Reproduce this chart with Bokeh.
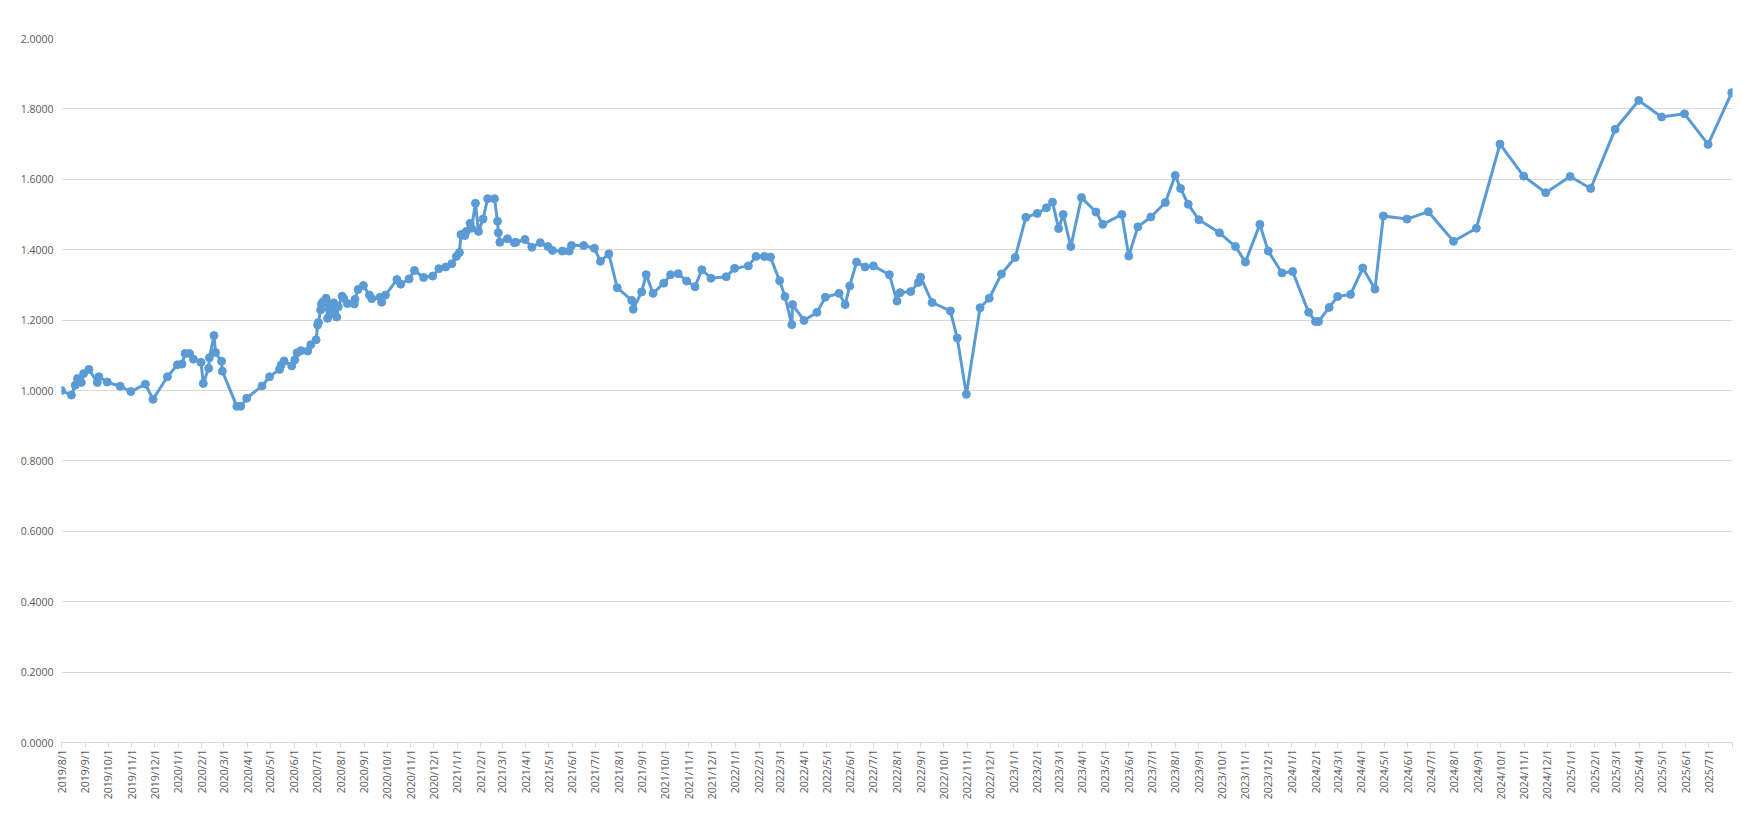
import math
import pandas as pd
from bokeh.plotting import figure
from bokeh.models import (ColumnDataSource, Range1d, FixedTicker, NumeralTickFormatter,
                          CustomJSTickFormatter)
from bokeh.embed import file_html
from bokeh.resources import INLINE

# ---------------- data ----------------
dates = [
    "2019-08-01", "2019-08-14", "2019-08-19", "2019-08-22", "2019-08-27", "2019-08-30",
    "2019-09-06", "2019-09-17", "2019-09-19", "2019-09-30", "2019-10-17", "2019-10-31",
    "2019-11-19", "2019-11-29", "2019-12-18", "2019-12-31", "2020-01-06", "2020-01-10",
    "2020-01-16", "2020-01-21", "2020-01-31", "2020-02-03", "2020-02-10", "2020-02-11",
    "2020-02-17", "2020-02-19", "2020-02-27", "2020-02-28", "2020-03-18", "2020-03-23",
    "2020-03-31", "2020-04-20", "2020-04-30", "2020-05-13", "2020-05-15", "2020-05-19",
    "2020-05-29", "2020-06-02", "2020-06-05", "2020-06-10", "2020-06-19", "2020-06-23",
    "2020-06-30", "2020-07-02", "2020-07-03", "2020-07-06", "2020-07-07", "2020-07-09",
    "2020-07-13", "2020-07-15", "2020-07-17", "2020-07-20", "2020-07-21", "2020-07-23",
    "2020-07-27", "2020-07-29", "2020-08-03", "2020-08-05", "2020-08-10", "2020-08-19",
    "2020-08-20", "2020-08-24", "2020-08-31", "2020-09-08", "2020-09-11", "2020-09-22",
    "2020-09-24", "2020-09-29", "2020-10-14", "2020-10-19", "2020-10-30", "2020-11-06",
    "2020-11-18", "2020-11-30", "2020-12-08", "2020-12-17", "2020-12-25", "2020-12-31",
    "2021-01-04", "2021-01-06", "2021-01-11", "2021-01-13", "2021-01-18", "2021-01-20",
    "2021-01-25", "2021-01-29", "2021-02-04", "2021-02-10", "2021-02-19", "2021-02-23",
    "2021-02-24", "2021-02-26", "2021-03-08", "2021-03-17", "2021-03-19", "2021-03-31",
    "2021-04-09", "2021-04-20", "2021-04-30", "2021-05-06", "2021-05-19", "2021-05-28",
    "2021-05-31", "2021-06-16", "2021-06-30", "2021-07-08", "2021-07-19", "2021-07-30",
    "2021-08-18", "2021-08-20", "2021-08-31", "2021-09-06", "2021-09-15", "2021-09-29",
    "2021-10-08", "2021-10-18", "2021-10-29", "2021-11-09", "2021-11-18", "2021-11-30",
    "2021-12-20", "2021-12-31", "2022-01-18", "2022-01-28", "2022-02-08", "2022-02-16",
    "2022-02-28", "2022-03-07", "2022-03-16", "2022-03-17", "2022-04-01", "2022-04-18",
    "2022-04-29", "2022-05-17", "2022-05-25", "2022-05-31", "2022-06-09", "2022-06-20",
    "2022-07-01", "2022-07-22", "2022-08-01", "2022-08-05", "2022-08-19", "2022-08-29",
    "2022-09-01", "2022-09-16", "2022-10-10", "2022-10-19", "2022-10-31", "2022-11-18",
    "2022-11-30", "2022-12-16", "2023-01-03", "2023-01-17", "2023-02-01", "2023-02-13",
    "2023-02-21", "2023-03-01", "2023-03-07", "2023-03-17", "2023-03-31", "2023-04-19",
    "2023-04-28", "2023-05-23", "2023-06-01", "2023-06-13", "2023-06-30", "2023-07-19",
    "2023-08-01", "2023-08-08", "2023-08-18", "2023-09-01", "2023-09-28", "2023-10-19",
    "2023-11-01", "2023-11-20", "2023-12-01", "2023-12-19", "2024-01-02", "2024-01-23",
    "2024-02-01", "2024-02-05", "2024-02-19", "2024-03-01", "2024-03-18", "2024-04-03",
    "2024-04-19", "2024-04-30", "2024-05-31", "2024-06-28", "2024-07-31", "2024-08-30",
    "2024-09-30", "2024-10-31", "2024-11-29", "2024-12-31", "2025-01-27", "2025-02-28",
    "2025-03-31", "2025-04-30", "2025-05-30", "2025-06-30", "2025-07-31",
]

values = [
    1.000, 0.987, 1.015, 1.034, 1.023, 1.048,
    1.060, 1.023, 1.039, 1.024, 1.012, 0.997,
    1.018, 0.975, 1.039, 1.073, 1.075, 1.105,
    1.105, 1.089, 1.080, 1.020, 1.063, 1.093,
    1.156, 1.108, 1.083, 1.055, 0.955, 0.955,
    0.978, 1.013, 1.039, 1.060, 1.072, 1.084,
    1.070, 1.087, 1.107, 1.113, 1.112, 1.130,
    1.144, 1.186, 1.193, 1.229, 1.246, 1.252,
    1.262, 1.205, 1.233, 1.246, 1.219, 1.249,
    1.209, 1.238, 1.268, 1.262, 1.247, 1.246,
    1.259, 1.287, 1.298, 1.271, 1.261, 1.265,
    1.251, 1.271, 1.315, 1.302, 1.317, 1.341,
    1.321, 1.325, 1.346, 1.351, 1.360, 1.381,
    1.392, 1.443, 1.440, 1.452, 1.475, 1.461,
    1.532, 1.452, 1.487, 1.545, 1.545, 1.481,
    1.448, 1.421, 1.431, 1.420, 1.421, 1.429,
    1.407, 1.420, 1.409, 1.398, 1.396, 1.396,
    1.412, 1.412, 1.404, 1.367, 1.388, 1.292,
    1.256, 1.231, 1.280, 1.329, 1.276, 1.305,
    1.329, 1.332, 1.311, 1.295, 1.343, 1.319,
    1.323, 1.347, 1.354, 1.381, 1.381, 1.379,
    1.312, 1.267, 1.187, 1.244, 1.199, 1.222,
    1.265, 1.276, 1.244, 1.297, 1.365, 1.351,
    1.354, 1.329, 1.254, 1.278, 1.281, 1.307,
    1.322, 1.250, 1.226, 1.149, 0.989, 1.235,
    1.262, 1.331, 1.378, 1.492, 1.503, 1.519,
    1.535, 1.460, 1.500, 1.409, 1.548, 1.507,
    1.472, 1.500, 1.382, 1.465, 1.493, 1.534,
    1.611, 1.574, 1.529, 1.485, 1.448, 1.409,
    1.365, 1.472, 1.396, 1.334, 1.338, 1.222,
    1.196, 1.196, 1.236, 1.267, 1.273, 1.348,
    1.288, 1.496, 1.487, 1.508, 1.424, 1.461,
    1.700, 1.609, 1.562, 1.608, 1.574, 1.742,
    1.824, 1.777, 1.786, 1.699, 1.846,
]

x_start = "2019-08-01"
x_end = "2025-08-01"
y_ticks = [0.0, 0.2, 0.4, 0.6, 0.8, 1.0, 1.2, 1.4, 1.6, 1.8, 2.0]

# ---------------- styling ----------------
LINE_COLOR = "#5B9BD5"
GRID_COLOR = "#D9D9D9"
TEXT_COLOR = "#595959"
FONT = "Open Sans"
FONT_SIZE = "10.5px"


def to_ms(ts):
    return pd.Timestamp(ts).value // 10**6


src = ColumnDataSource(data=dict(date=pd.to_datetime(dates), value=values))

p = figure(
    width=1746, height=810,
    x_axis_type="datetime",
    output_backend="svg",
    toolbar_location=None,
    min_border_left=61, min_border_right=14,
    min_border_top=38, min_border_bottom=68,
    x_range=Range1d(pd.Timestamp(x_start), pd.Timestamp(x_end)),
    y_range=Range1d(0, 2.0),
)
p.outline_line_color = None
p.background_fill_color = "white"
p.border_fill_color = "white"

# grid
p.xgrid.grid_line_color = None
p.ygrid.grid_line_color = GRID_COLOR
p.ygrid.grid_line_width = 1

# y axis
p.yaxis.ticker = FixedTicker(ticks=y_ticks)
p.yaxis.formatter = NumeralTickFormatter(format="0.0000")
p.yaxis.axis_line_color = None
p.yaxis.major_tick_line_color = None
p.yaxis.minor_tick_line_color = None
p.yaxis.major_tick_out = 0
p.yaxis.major_tick_in = 0
p.yaxis.major_label_standoff = 8
p.yaxis.major_label_text_font = FONT
p.yaxis.major_label_text_font_size = FONT_SIZE
p.yaxis.major_label_text_color = TEXT_COLOR

# x axis: monthly ticks, the final month boundary carries no label
month_ticks = [to_ms(t) for t in pd.date_range(x_start, "2025-07-01", freq="MS")]
p.xaxis.ticker = FixedTicker(ticks=month_ticks, minor_ticks=[to_ms(x_end)])
p.xaxis.formatter = CustomJSTickFormatter(code="""
    const d = new Date(tick);
    return d.getUTCFullYear() + '/' + (d.getUTCMonth() + 1) + '/' + d.getUTCDate();
""")
p.xaxis.major_label_orientation = math.pi / 2
p.xaxis.axis_line_color = GRID_COLOR
p.xaxis.axis_line_width = 1
p.xaxis.major_tick_line_color = GRID_COLOR
p.xaxis.major_tick_out = 5
p.xaxis.major_tick_in = 0
p.xaxis.minor_tick_line_color = GRID_COLOR
p.xaxis.minor_tick_out = 5
p.xaxis.minor_tick_in = 0
p.xaxis.major_label_standoff = 2
p.xaxis.major_label_text_font = FONT
p.xaxis.major_label_text_font_size = FONT_SIZE
p.xaxis.major_label_text_color = TEXT_COLOR

# series
p.line(x="date", y="value", source=src, line_color=LINE_COLOR, line_width=3,
       line_join="round")
p.scatter(x="date", y="value", source=src, size=8, marker="circle",
          fill_color=LINE_COLOR, line_color=LINE_COLOR)

open("out.html", "w").write(file_html(p, INLINE))
